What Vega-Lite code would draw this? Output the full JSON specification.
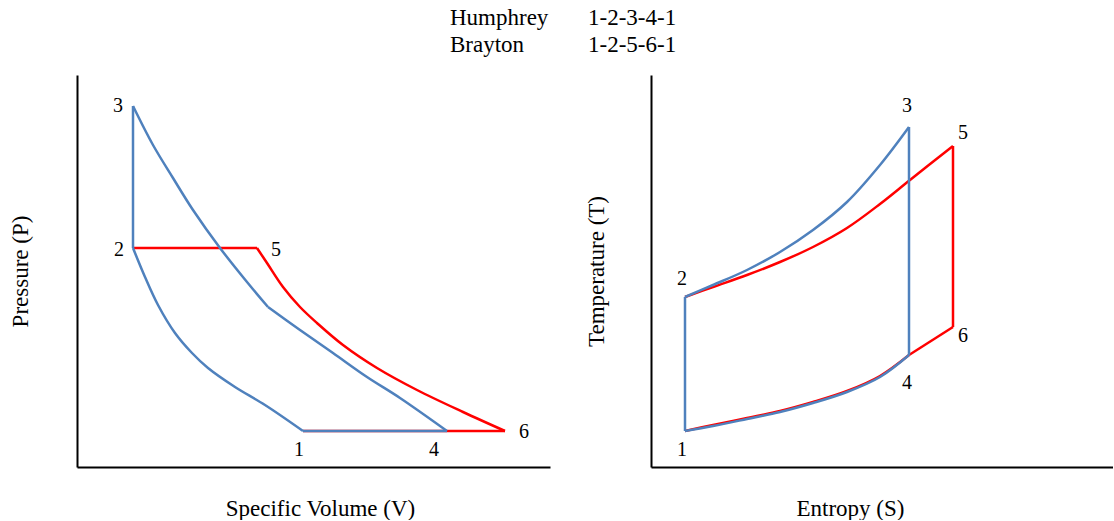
{
  "$schema": "https://vega.github.io/schema/vega-lite/v6.json",
  "padding": {"left": 9, "top": 7, "right": 0, "bottom": 0},
  "background": "white",
  "bounds": "flush",
  "spacing": 101,
  "config": {
    "view": {"stroke": null},
    "font": "Liberation Serif",
    "axis": {"domainColor": "#000000", "domainWidth": 2, "ticks": false, "labels": false, "grid": false, "titleFont": "Liberation Serif", "titleFontSize": 23, "titleFontWeight": "normal", "titleColor": "#000000"},
    "title": {"font": "Liberation Serif", "fontSize": 23, "fontWeight": "normal", "color": "#000000", "lineHeight": 27, "anchor": "start", "align": "left", "frame": "group", "offset": 18}
  },
  "datasets": {
    "pv": [
      {"cycle": "Brayton", "seg": "2-5", "i": 0, "v": 56, "p": 219},
      {"cycle": "Brayton", "seg": "2-5", "i": 1, "v": 180, "p": 219},
      {"cycle": "Brayton", "seg": "5-6", "i": 0, "v": 180, "p": 219},
      {"cycle": "Brayton", "seg": "5-6", "i": 1, "v": 190, "p": 204},
      {"cycle": "Brayton", "seg": "5-6", "i": 2, "v": 206, "p": 180},
      {"cycle": "Brayton", "seg": "5-6", "i": 3, "v": 223, "p": 160},
      {"cycle": "Brayton", "seg": "5-6", "i": 4, "v": 240, "p": 144},
      {"cycle": "Brayton", "seg": "5-6", "i": 5, "v": 266, "p": 122},
      {"cycle": "Brayton", "seg": "5-6", "i": 6, "v": 300, "p": 99},
      {"cycle": "Brayton", "seg": "5-6", "i": 7, "v": 340, "p": 77},
      {"cycle": "Brayton", "seg": "5-6", "i": 8, "v": 386, "p": 55},
      {"cycle": "Brayton", "seg": "5-6", "i": 9, "v": 428, "p": 36},
      {"cycle": "Brayton", "seg": "6-1", "i": 0, "v": 428, "p": 36},
      {"cycle": "Brayton", "seg": "6-1", "i": 1, "v": 226, "p": 36},
      {"cycle": "Humphrey", "seg": "1-2", "i": 0, "v": 226, "p": 36},
      {"cycle": "Humphrey", "seg": "1-2", "i": 1, "v": 188, "p": 62},
      {"cycle": "Humphrey", "seg": "1-2", "i": 2, "v": 158, "p": 80},
      {"cycle": "Humphrey", "seg": "1-2", "i": 3, "v": 131, "p": 99},
      {"cycle": "Humphrey", "seg": "1-2", "i": 4, "v": 115, "p": 114},
      {"cycle": "Humphrey", "seg": "1-2", "i": 5, "v": 98, "p": 134},
      {"cycle": "Humphrey", "seg": "1-2", "i": 6, "v": 81, "p": 162},
      {"cycle": "Humphrey", "seg": "1-2", "i": 7, "v": 68, "p": 190},
      {"cycle": "Humphrey", "seg": "1-2", "i": 8, "v": 56, "p": 219},
      {"cycle": "Humphrey", "seg": "2-3", "i": 0, "v": 56, "p": 219},
      {"cycle": "Humphrey", "seg": "2-3", "i": 1, "v": 56, "p": 361},
      {"cycle": "Humphrey", "seg": "3-4a", "i": 0, "v": 56, "p": 361},
      {"cycle": "Humphrey", "seg": "3-4a", "i": 1, "v": 76, "p": 322},
      {"cycle": "Humphrey", "seg": "3-4a", "i": 2, "v": 96, "p": 289},
      {"cycle": "Humphrey", "seg": "3-4a", "i": 3, "v": 116, "p": 257},
      {"cycle": "Humphrey", "seg": "3-4a", "i": 4, "v": 143, "p": 219},
      {"cycle": "Humphrey", "seg": "3-4a", "i": 5, "v": 170, "p": 185},
      {"cycle": "Humphrey", "seg": "3-4a", "i": 6, "v": 191, "p": 160},
      {"cycle": "Humphrey", "seg": "3-4b", "i": 0, "v": 191, "p": 160},
      {"cycle": "Humphrey", "seg": "3-4b", "i": 1, "v": 223, "p": 137},
      {"cycle": "Humphrey", "seg": "3-4b", "i": 2, "v": 256, "p": 114},
      {"cycle": "Humphrey", "seg": "3-4b", "i": 3, "v": 290, "p": 90},
      {"cycle": "Humphrey", "seg": "3-4b", "i": 4, "v": 323, "p": 69},
      {"cycle": "Humphrey", "seg": "3-4b", "i": 5, "v": 370, "p": 36},
      {"cycle": "Humphrey", "seg": "4-1", "i": 0, "v": 370, "p": 36},
      {"cycle": "Humphrey", "seg": "4-1", "i": 1, "v": 226, "p": 36}
    ],
    "pvLabels": [
      {"state": "3", "v": 41, "p": 361},
      {"state": "2", "v": 42, "p": 217},
      {"state": "5", "v": 199, "p": 217},
      {"state": "6", "v": 447, "p": 35},
      {"state": "1", "v": 222, "p": 17},
      {"state": "4", "v": 357, "p": 17}
    ],
    "ts": [
      {"cycle": "Brayton", "seg": "2-5", "i": 0, "s": 34, "t": 170},
      {"cycle": "Brayton", "seg": "2-5", "i": 1, "s": 62, "t": 180},
      {"cycle": "Brayton", "seg": "2-5", "i": 2, "s": 96, "t": 192},
      {"cycle": "Brayton", "seg": "2-5", "i": 3, "s": 129, "t": 205},
      {"cycle": "Brayton", "seg": "2-5", "i": 4, "s": 162, "t": 220},
      {"cycle": "Brayton", "seg": "2-5", "i": 5, "s": 196, "t": 239},
      {"cycle": "Brayton", "seg": "2-5", "i": 6, "s": 229, "t": 263},
      {"cycle": "Brayton", "seg": "2-5", "i": 7, "s": 259, "t": 287},
      {"cycle": "Brayton", "seg": "2-5", "i": 8, "s": 302, "t": 321},
      {"cycle": "Brayton", "seg": "5-6", "i": 0, "s": 302, "t": 321},
      {"cycle": "Brayton", "seg": "5-6", "i": 1, "s": 302, "t": 140},
      {"cycle": "Brayton", "seg": "6-4", "i": 0, "s": 302, "t": 140},
      {"cycle": "Brayton", "seg": "6-4", "i": 1, "s": 258, "t": 112},
      {"cycle": "Brayton", "seg": "4-1", "i": 0, "s": 258, "t": 112},
      {"cycle": "Brayton", "seg": "4-1", "i": 1, "s": 229, "t": 91},
      {"cycle": "Brayton", "seg": "4-1", "i": 2, "s": 196, "t": 76},
      {"cycle": "Brayton", "seg": "4-1", "i": 3, "s": 162, "t": 65},
      {"cycle": "Brayton", "seg": "4-1", "i": 4, "s": 129, "t": 56},
      {"cycle": "Brayton", "seg": "4-1", "i": 5, "s": 96, "t": 49},
      {"cycle": "Brayton", "seg": "4-1", "i": 6, "s": 62, "t": 42},
      {"cycle": "Brayton", "seg": "4-1", "i": 7, "s": 34, "t": 36},
      {"cycle": "Humphrey", "seg": "1-2", "i": 0, "s": 34, "t": 36},
      {"cycle": "Humphrey", "seg": "1-2", "i": 1, "s": 34, "t": 170},
      {"cycle": "Humphrey", "seg": "2-3", "i": 0, "s": 34, "t": 170},
      {"cycle": "Humphrey", "seg": "2-3", "i": 1, "s": 62, "t": 182},
      {"cycle": "Humphrey", "seg": "2-3", "i": 2, "s": 96, "t": 197},
      {"cycle": "Humphrey", "seg": "2-3", "i": 3, "s": 129, "t": 215},
      {"cycle": "Humphrey", "seg": "2-3", "i": 4, "s": 162, "t": 237},
      {"cycle": "Humphrey", "seg": "2-3", "i": 5, "s": 196, "t": 265},
      {"cycle": "Humphrey", "seg": "2-3", "i": 6, "s": 229, "t": 302},
      {"cycle": "Humphrey", "seg": "2-3", "i": 7, "s": 258, "t": 340},
      {"cycle": "Humphrey", "seg": "3-4", "i": 0, "s": 258, "t": 340},
      {"cycle": "Humphrey", "seg": "3-4", "i": 1, "s": 258, "t": 112},
      {"cycle": "Humphrey", "seg": "4-1", "i": 0, "s": 258, "t": 112},
      {"cycle": "Humphrey", "seg": "4-1", "i": 1, "s": 229, "t": 90},
      {"cycle": "Humphrey", "seg": "4-1", "i": 2, "s": 196, "t": 75},
      {"cycle": "Humphrey", "seg": "4-1", "i": 3, "s": 162, "t": 64},
      {"cycle": "Humphrey", "seg": "4-1", "i": 4, "s": 129, "t": 55},
      {"cycle": "Humphrey", "seg": "4-1", "i": 5, "s": 96, "t": 48},
      {"cycle": "Humphrey", "seg": "4-1", "i": 6, "s": 62, "t": 41},
      {"cycle": "Humphrey", "seg": "4-1", "i": 7, "s": 34, "t": 36}
    ],
    "tsLabels": [
      {"state": "3", "s": 256, "t": 361},
      {"state": "5", "s": 312, "t": 334},
      {"state": "2", "s": 31, "t": 188},
      {"state": "6", "s": 312, "t": 131},
      {"state": "4", "s": 256, "t": 84},
      {"state": "1", "s": 31, "t": 17}
    ]
  },
  "hconcat": [
    {
      "width": 473,
      "height": 392,
      "title": {"text": ["Humphrey", "Brayton"], "dx": 373},
      "encoding": {
        "x": {"field": "v", "type": "quantitative", "scale": {"domain": [0, 473], "nice": false, "zero": false}, "axis": {"title": "Specific Volume (V)", "titlePadding": 30, "titleX": 243}},
        "y": {"field": "p", "type": "quantitative", "scale": {"domain": [0, 392], "nice": false, "zero": false}, "axis": {"title": "Pressure (P)", "titlePadding": 45}}
      },
      "layer": [
        {
          "data": {"name": "pv"},
          "transform": [{"filter": "datum.cycle == 'Brayton'"}],
          "mark": {"type": "line", "color": "#FF0000", "strokeWidth": 2.5, "interpolate": "catmull-rom"},
          "encoding": {"detail": {"field": "seg"}, "order": {"field": "i", "type": "quantitative"}}
        },
        {
          "data": {"name": "pv"},
          "transform": [{"filter": "datum.cycle == 'Humphrey'"}],
          "mark": {"type": "line", "color": "#4F81BD", "strokeWidth": 2.5, "interpolate": "catmull-rom"},
          "encoding": {"detail": {"field": "seg"}, "order": {"field": "i", "type": "quantitative"}}
        },
        {
          "data": {"name": "pvLabels"},
          "mark": {"type": "text", "fontSize": 20, "font": "Liberation Serif", "color": "#000000", "align": "center", "baseline": "middle"},
          "encoding": {"text": {"field": "state"}}
        }
      ]
    },
    {
      "width": 462,
      "height": 392,
      "title": {"text": ["1-2-3-4-1", "1-2-5-6-1"], "dx": -63},
      "encoding": {
        "x": {"field": "s", "type": "quantitative", "scale": {"domain": [0, 462], "nice": false, "zero": false}, "axis": {"title": "Entropy (S)", "titlePadding": 30, "titleX": 199}},
        "y": {"field": "t", "type": "quantitative", "scale": {"domain": [0, 392], "nice": false, "zero": false}, "axis": {"title": "Temperature (T)", "titlePadding": 43}}
      },
      "layer": [
        {
          "data": {"name": "ts"},
          "transform": [{"filter": "datum.cycle == 'Brayton'"}],
          "mark": {"type": "line", "color": "#FF0000", "strokeWidth": 2.5, "interpolate": "catmull-rom"},
          "encoding": {"detail": {"field": "seg"}, "order": {"field": "i", "type": "quantitative"}}
        },
        {
          "data": {"name": "ts"},
          "transform": [{"filter": "datum.cycle == 'Humphrey'"}],
          "mark": {"type": "line", "color": "#4F81BD", "strokeWidth": 2.5, "interpolate": "catmull-rom"},
          "encoding": {"detail": {"field": "seg"}, "order": {"field": "i", "type": "quantitative"}}
        },
        {
          "data": {"name": "tsLabels"},
          "mark": {"type": "text", "fontSize": 20, "font": "Liberation Serif", "color": "#000000", "align": "center", "baseline": "middle"},
          "encoding": {"text": {"field": "state"}}
        }
      ]
    }
  ]
}
